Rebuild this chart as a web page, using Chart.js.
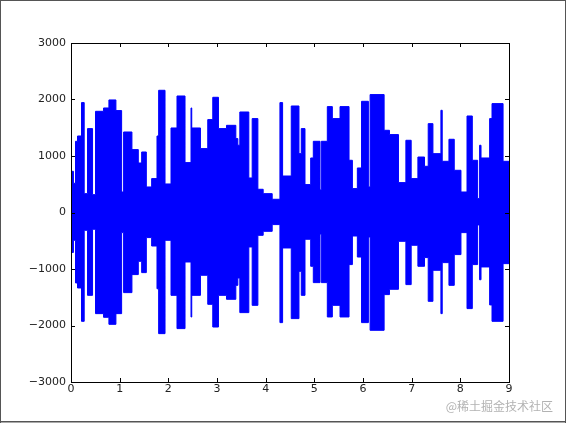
<!DOCTYPE html>
<html>
<head>
<meta charset="utf-8">
<script src="https://cdn.jsdelivr.net/npm/chart.js@4/dist/chart.umd.min.js"></script>
<style>
  html, body { margin: 0; padding: 0; background: #fff; }
  canvas { display: block; }
</style>
</head>
<body>
<canvas id="c" width="566" height="424"></canvas>
<script>
// step envelope of the waveform: each segment starts at segStart (seconds)
var segStart = [0.00, 0.05, 0.093, 0.134, 0.216, 0.271, 0.34, 0.443, 0.504, 0.669,
  0.779, 0.923, 1.04, 1.081, 1.252, 1.383, 1.452, 1.548, 1.657, 1.767,
  1.801, 1.932, 2.055, 2.178, 2.343, 2.466, 2.481, 2.66, 2.81, 2.913,
  3.03, 3.195, 3.387, 3.428, 3.469, 3.654, 3.723, 3.84, 3.949, 4.134,
  4.293, 4.348, 4.526, 4.684, 4.732, 4.808, 4.925, 4.979, 5.116, 5.144,
  5.267, 5.37, 5.528, 5.713, 5.782, 5.884, 5.97, 6.111, 6.146, 6.434,
  6.544, 6.729, 6.881, 6.99, 7.128, 7.264, 7.34, 7.437, 7.601, 7.628,
  7.766, 7.875, 8.013, 8.137, 8.246, 8.355, 8.396, 8.425, 8.602, 8.651,
  8.878];
var segEnd = 9;

var upperAmp = [729, 517, 1260, 1354, 1945, 334, 1485, 316, 1791, 1850,
  1992, 1804, 363, 1425, 1113, 876, 1071, 452, 600, 1354,
  2163, 505, 1496, 2062, 883, 1850, 1496, 1131, 1644, 2039,
  1485, 1543, 1308, 1190, 1779, 611, 1662, 411, 334, 234,
  1945, 646, 1885, 1042, 1485, 494, 965, 1260, 400, 1260,
  1874, 1662, 1874, 924, 423, 788, 1968, 452, 2087, 1455,
  1379, 529, 1278, 600, 982, 818, 1573, 1042, 1809, 906,
  1296, 747, 363, 1708, 924, 246, 1190, 965, 1662, 1927,
  906];

var lowerAmp = [-707, -492, -1247, -1336, -1926, -315, -1466, -297, -1790, -1855,
  -1979, -1790, -356, -1418, -1099, -864, -1064, -444, -593, -1350,
  -2144, -492, -1466, -2055, -876, -1850, -1466, -1111, -1625, -2027,
  -1466, -1536, -1289, -1159, -1772, -610, -1643, -404, -333, -214,
  -1949, -628, -1878, -1041, -1466, -474, -952, -1241, -380, -1241,
  -1849, -1643, -1849, -922, -416, -788, -1949, -433, -2085, -1453,
  -1359, -510, -1276, -580, -952, -798, -1572, -1023, -1790, -887,
  -1289, -745, -356, -1701, -922, -220, -1190, -964, -1636, -1926,
  -905];

var xTicks = [0, 1, 2, 3, 4, 5, 6, 7, 8, 9];
var yTicks = [-3000, -2000, -1000, 0, 1000, 2000, 3000];

function toPoints(vals) {
  var pts = [];
  for (var i = 0; i < segStart.length; i++) {
    pts.push({ x: segStart[i], y: vals[i] });
  }
  pts.push({ x: segEnd, y: vals[vals.length - 1] });
  return pts;
}

var blue = '#0000ff';
var font = { family: '"DejaVu Sans", sans-serif', size: 11 };

// white page with the thin outer frame of the screenshot
var pageFrame = {
  id: 'pageFrame',
  beforeDraw: function(chart) {
    var ctx = chart.ctx;
    ctx.save();
    ctx.fillStyle = '#fff';
    ctx.fillRect(0, 0, chart.width, chart.height);
    ctx.fillStyle = '#555';
    ctx.fillRect(0, 0, 1, 423);
    ctx.fillRect(565, 0, 1, 423);
    ctx.fillRect(0, 421, 566, 1.5);
    ctx.fillRect(0, 0, 566, 1);
    ctx.restore();
  }
};

// matplotlib style box with inward ticks on all four sides
var axesBox = {
  id: 'axesBox',
  afterDatasetsDraw: function(chart) {
    var ctx = chart.ctx, a = chart.chartArea;
    var xs = chart.scales.x, ys = chart.scales.y;
    var len = 4;
    ctx.save();
    ctx.strokeStyle = '#000';
    ctx.lineWidth = 1;
    ctx.beginPath();
    xTicks.forEach(function(v) {
      var px = Math.round(xs.getPixelForValue(v)) + 0.5;
      ctx.moveTo(px, a.bottom); ctx.lineTo(px, a.bottom - len);
      ctx.moveTo(px, a.top); ctx.lineTo(px, a.top + len);
    });
    yTicks.forEach(function(v) {
      var py = Math.round(ys.getPixelForValue(v)) + 0.5;
      ctx.moveTo(a.left, py); ctx.lineTo(a.left + len, py);
      ctx.moveTo(a.right, py); ctx.lineTo(a.right - len, py);
    });
    ctx.stroke();
    ctx.strokeRect(Math.round(a.left) + 0.5, Math.round(a.top) + 0.5,
      Math.round(a.right - a.left), Math.round(a.bottom - a.top));
    ctx.restore();
  },
  afterDraw: function(chart) {
    var ctx = chart.ctx;
    ctx.save();
    ctx.font = '12px "Noto Sans CJK SC", sans-serif';
    ctx.textAlign = 'right';
    ctx.textBaseline = 'middle';
    ctx.fillStyle = 'rgba(165,165,165,0.85)';
    ctx.fillText('@稀土掘金技术社区', 553, 406);
    ctx.restore();
  }
};

new Chart(document.getElementById('c'), {
  type: 'line',
  data: {
    datasets: [
      {
        data: toPoints(upperAmp),
        stepped: 'before',
        borderColor: blue,
        backgroundColor: blue,
        borderWidth: 1,
        pointRadius: 0,
        fill: false
      },
      {
        data: toPoints(lowerAmp),
        stepped: 'before',
        borderColor: blue,
        backgroundColor: blue,
        borderWidth: 1,
        pointRadius: 0,
        fill: '-1'
      }
    ]
  },
  options: {
    responsive: false,
    animation: false,
    devicePixelRatio: 1,
    layout: { padding: { left: 0, top: 43, right: 57, bottom: 0 } },
    plugins: { legend: { display: false }, tooltip: { enabled: false } },
    scales: {
      x: {
        type: 'linear',
        min: 0,
        max: 9,
        afterBuildTicks: function(scale) {
          scale.ticks = xTicks.map(function(v) { return { value: v }; });
        },
        afterFit: function(scale) { scale.height = 42; },
        grid: { display: false, drawTicks: false },
        border: { display: false },
        ticks: {
          font: font,
          color: '#222',
          padding: 1,
          maxRotation: 0,
          callback: function(v) { return String(v); }
        }
      },
      y: {
        type: 'linear',
        min: -3000,
        max: 3000,
        afterBuildTicks: function(scale) {
          scale.ticks = yTicks.map(function(v) { return { value: v }; });
        },
        afterFit: function(scale) { scale.width = 71; },
        grid: { display: false, drawTicks: false },
        border: { display: false },
        ticks: {
          font: font,
          color: '#222',
          padding: 5,
          callback: function(v) { return String(v).replace('-', '\u2212'); }
        }
      }
    }
  },
  plugins: [pageFrame, axesBox]
});
</script>
</body>
</html>
